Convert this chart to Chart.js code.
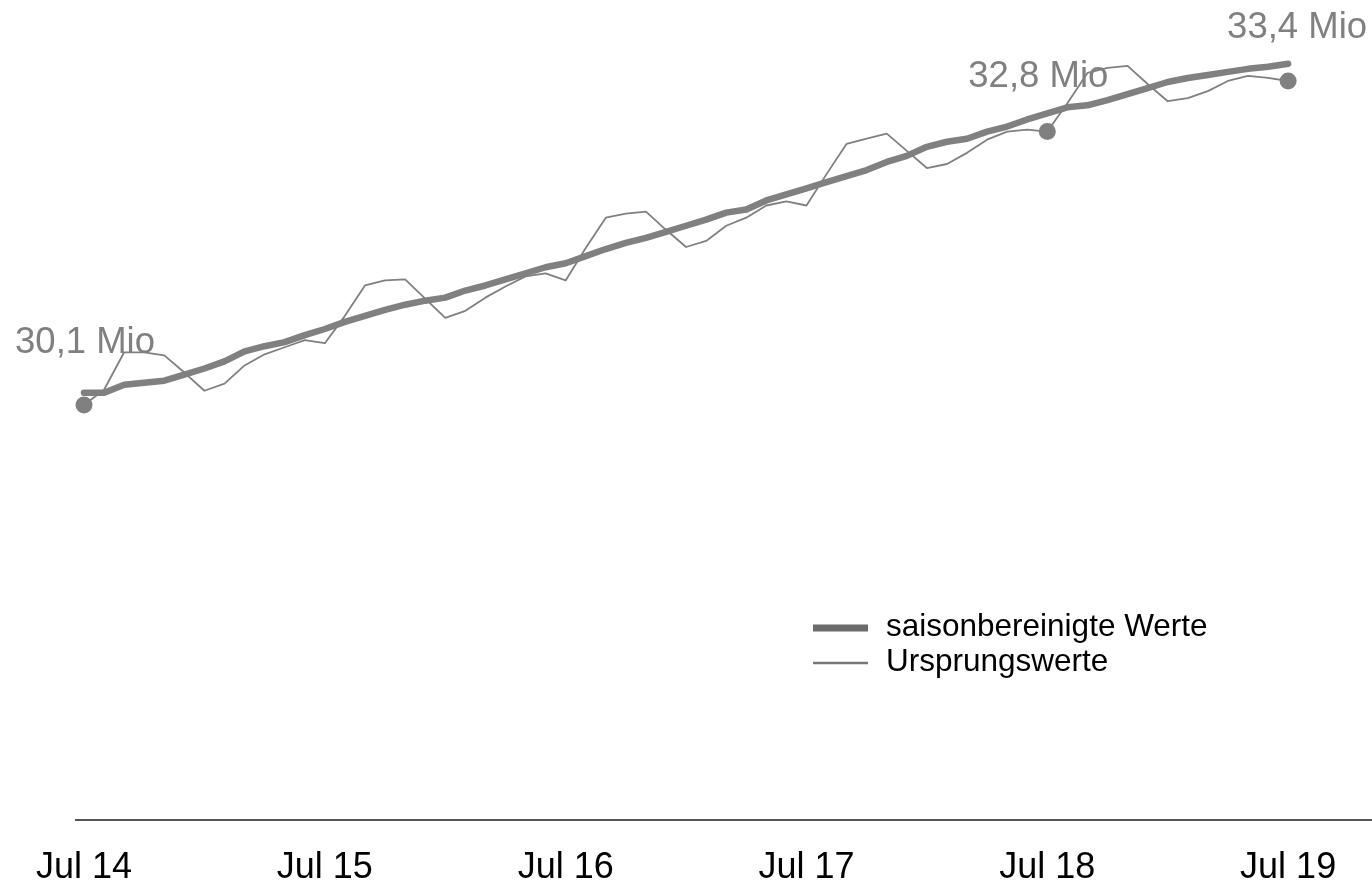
<!DOCTYPE html>
<html>
<head>
<meta charset="utf-8">
<title>Erwerbstätige</title>
<script src="https://cdn.jsdelivr.net/npm/chart.js@4/dist/chart.umd.min.js"></script>
<style>
  html, body { margin: 0; padding: 0; background: #fff; }
  canvas { display: block; }
</style>
</head>
<body>
<canvas id="chart" width="1372" height="883"></canvas>
<script>
// Monatswerte Jul 14 .. Jul 19 (Mio)
var seasonal = [
  30.22, 30.22, 30.30, 30.32, 30.34, 30.40, 30.46, 30.53, 30.63, 30.68,
  30.72, 30.79, 30.85, 30.92, 30.98, 31.04, 31.09, 31.13, 31.16, 31.23,
  31.28, 31.34, 31.40, 31.46, 31.50, 31.57, 31.64, 31.70, 31.75, 31.81,
  31.87, 31.93, 32.00, 32.03, 32.12, 32.18, 32.24, 32.30, 32.36, 32.42,
  32.50, 32.56, 32.65, 32.70, 32.73, 32.80, 32.85, 32.92, 32.98, 33.04,
  33.06, 33.11, 33.17, 33.23, 33.29, 33.33, 33.36, 33.39, 33.42, 33.44, 33.47
];
var original = [
  30.10, 30.25, 30.62, 30.62, 30.59, 30.42, 30.24, 30.31, 30.49, 30.60,
  30.67, 30.74, 30.71, 30.98, 31.28, 31.33, 31.34, 31.15, 30.96, 31.03,
  31.16, 31.27, 31.37, 31.40, 31.33, 31.65, 31.95, 31.99, 32.01, 31.83,
  31.66, 31.72, 31.87, 31.95, 32.07, 32.11, 32.07, 32.38, 32.68, 32.73,
  32.78, 32.61, 32.44, 32.48, 32.59, 32.72, 32.80, 32.82, 32.80, 33.08,
  33.38, 33.43, 33.45, 33.27, 33.10, 33.13, 33.20, 33.30, 33.35, 33.33, 33.30
];
var seriesNames = ['saisonbereinigte Werte', 'Ursprungswerte'];
var tickMonths = [0, 12, 24, 36, 48, 60];
var tickLabels = ['Jul 14', 'Jul 15', 'Jul 16', 'Jul 17', 'Jul 18', 'Jul 19'];
var markedMonths = [0, 48, 60];
var markedTexts = ['30,1 Mio', '32,8 Mio', '33,4 Mio'];

var FONT = '"Liberation Sans", Arial, sans-serif';
var GREY = '#808080';

function toPoints(arr) {
  return arr.map(function (v, i) { return { x: i, y: v }; });
}

// Beschriftung der markierten Punkte (Versatz zum Punkt in px)
var labelShift = [[1, -52], [-9, -45], [9, -43]];
var markLabels = {
  id: 'markLabels',
  afterDatasetsDraw: function (chart) {
    var meta = chart.getDatasetMeta(1);
    var ctx = chart.ctx;
    ctx.save();
    ctx.font = '36.5px ' + FONT;
    ctx.fillStyle = GREY;
    ctx.textAlign = 'center';
    ctx.textBaseline = 'alphabetic';
    markedMonths.forEach(function (m, k) {
      var pt = meta.data[m];
      if (!pt) return;
      ctx.fillText(markedTexts[k], pt.x + labelShift[k][0], pt.y + labelShift[k][1]);
    });
    ctx.restore();
  }
};

// Legende rechts unten im Plot
var innerLegend = {
  id: 'innerLegend',
  afterDraw: function (chart) {
    var ctx = chart.ctx;
    var rows = [
      { y: 628, w: 7, color: '#6b6b6b' },
      { y: 663, w: 2.5, color: '#777777' }
    ];
    ctx.save();
    ctx.font = '31.5px ' + FONT;
    ctx.textBaseline = 'middle';
    ctx.textAlign = 'left';
    rows.forEach(function (r, i) {
      ctx.strokeStyle = r.color;
      ctx.lineWidth = r.w;
      ctx.beginPath();
      ctx.moveTo(813, r.y);
      ctx.lineTo(868, r.y);
      ctx.stroke();
      ctx.fillStyle = '#000';
      ctx.fillText(chart.data.datasets[i].label, 886, r.y - 1);
    });
    ctx.restore();
  }
};

new Chart(document.getElementById('chart'), {
  type: 'line',
  data: {
    datasets: [{
      label: seriesNames[0],
      data: toPoints(seasonal),
      borderColor: GREY,
      borderWidth: 6.5,
      borderCapStyle: 'round',
      borderJoinStyle: 'round',
      pointRadius: 0,
      tension: 0,
      clip: false
    }, {
      label: seriesNames[1],
      data: toPoints(original),
      borderColor: GREY,
      borderWidth: 1.8,
      borderJoinStyle: 'round',
      backgroundColor: GREY,
      pointBackgroundColor: GREY,
      pointBorderWidth: 0,
      pointRadius: function (c) { return markedMonths.indexOf(c.dataIndex) >= 0 ? 8.5 : 0; },
      pointHoverRadius: 0,
      tension: 0,
      clip: false
    }]
  },
  options: {
    responsive: false,
    animation: false,
    events: [],
    layout: { autoPadding: false, padding: { left: 76, right: 0, top: 0, bottom: 0 } },
    plugins: {
      legend: { display: false },
      tooltip: { enabled: false }
    },
    scales: {
      y: {
        display: false,
        min: 26.0,
        max: 34.1
      },
      x: {
        type: 'linear',
        min: -0.4,
        max: 64.18,
        afterBuildTicks: function (s) {
          s.ticks = tickMonths.map(function (v) { return { value: v }; });
        },
        afterFit: function (s) { s.height = 63; },
        grid: { display: false, drawTicks: false },
        border: { display: true, color: '#555555', width: 2 },
        ticks: {
          autoSkip: false,
          maxRotation: 0,
          padding: 26,
          color: '#000',
          font: { family: FONT, size: 36 },
          callback: function (v) {
            var k = tickMonths.indexOf(v);
            return k >= 0 ? tickLabels[k] : '';
          }
        }
      }
    }
  },
  plugins: [markLabels, innerLegend]
});
</script>
</body>
</html>
